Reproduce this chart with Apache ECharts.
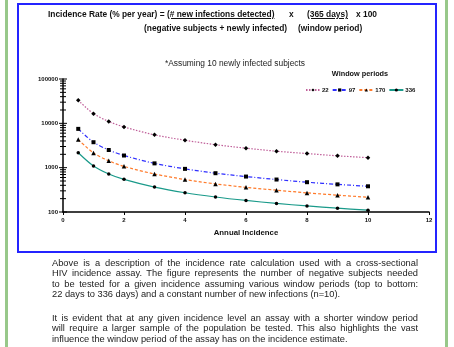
<!DOCTYPE html>
<html>
<head>
<meta charset="utf-8">
<script src="https://cdn.jsdelivr.net/npm/echarts@6/dist/echarts.min.js"></script>
<style>
  html, body { margin: 0; padding: 0; background: #fff; }
  body { width: 454px; height: 347px; position: relative; overflow: hidden; font-family: "Liberation Sans", Arial, sans-serif; }
  .green { position: absolute; top: 0; bottom: 0; width: 3px; background: #98c88a; }
  .box { position: absolute; left: 17px; top: 3px; width: 416px; height: 246px; border: 2px solid #2424ff; }
  #chart { position: absolute; left: 0; top: 0; width: 454px; height: 347px; }
  .formula { position: absolute; font-size: 8.4px; font-weight: bold; color: #111; white-space: nowrap; }
  .formula u { text-decoration-thickness: 1px; text-underline-offset: 1px; }
  .para { position: absolute; left: 52px; width: 366px; font-size: 9.3px; line-height: 10.3px; color: #222; }
  .para div { white-space: nowrap; text-align: justify; text-align-last: justify; }
  .para div.last { text-align-last: left; }
</style>
</head>
<body>
<div class="green" style="left:5px"></div>
<div class="green" style="left:445px"></div>
<div class="box"></div>
<div id="chart"></div>

<div class="formula" style="left:48px; top:9px;">Incidence Rate (% per year) = <u>(# new infections detected)</u></div>
<div class="formula" style="left:289px; top:9px;">x</div>
<div class="formula" style="left:307px; top:9px;"><u>(365 days)</u></div>
<div class="formula" style="left:356px; top:9px;">x 100</div>
<div class="formula" style="left:144px; top:23px;">(negative subjects + newly infected)</div>
<div class="formula" style="left:298px; top:23px;">(window period)</div>

<div class="para" style="top:258px;">
  <div>Above is a description of the incidence rate calculation used with a cross-sectional</div>
  <div>HIV incidence assay. The figure represents the number of negative subjects needed</div>
  <div>to be tested for a given incidence assuming various window periods (top to bottom:</div>
  <div class="last">22 days to 336 days) and a constant number of new infections (n=10).</div>
</div>
<div class="para" style="top:313px;">
  <div>It is evident that at any given incidence level an assay with a shorter window period</div>
  <div>will require a larger sample of the population be tested. This also highlights the vast</div>
  <div class="last">influence the window period of the assay has on the incidence estimate.</div>
</div>

<script>
  // annual incidence (%)
  var incidence = [0.5, 1, 1.5, 2, 3, 4, 5, 6, 7, 8, 9, 10]

  // negative subjects needed, one list per window period
  var win22 = [33000, 16500, 11000, 8300, 5500, 4150, 3300, 2750, 2350, 2080, 1850, 1680]
  var win97 = [7500, 3750, 2500, 1880, 1250, 940, 750, 630, 540, 470, 420, 380]
  var win170 = [4300, 2150, 1430, 1070, 720, 540, 430, 360, 310, 270, 240, 215]
  var win336 = [2170, 1090, 720, 545, 365, 272, 218, 182, 156, 137, 122, 110]

  var windowNames = ['22', '97', '170', '336']

  // log axis ticks (majors + 2..9 minors)
  var yTicks = [100, 200, 300, 400, 500, 600, 700, 800, 900,
    1000, 2000, 3000, 4000, 5000, 6000, 7000, 8000, 9000,
    10000, 20000, 30000, 40000, 50000, 60000, 70000, 80000, 90000, 100000]
  var yMajor = [100, 1000, 10000, 100000]

  function pairs (ys) {
    var out = []
    for (var i = 0; i < incidence.length; i++) {
      out.push([incidence[i], ys[i]])
    }
    return out
  }

  function lineSeries (name, ys, color, dash, symbol, size) {
    return {
      name: name,
      type: 'line',
      smooth: 0.3,
      data: pairs(ys),
      symbol: symbol,
      symbolSize: size,
      itemStyle: { color: '#000' },
      lineStyle: { color: color, width: 1.2, type: dash },
      emphasis: { disabled: true },
      z: 3
    }
  }

  var chart = echarts.init(document.getElementById('chart'), null, { renderer: 'canvas' })

  var option = {
    animation: false,
    textStyle: { fontFamily: 'Liberation Sans, Arial, sans-serif' },
    title: [{
      text: '*Assuming 10 newly infected subjects',
      left: 230,
      textAlign: 'center',
      top: 55,
      textStyle: { fontSize: 8.4, fontWeight: 'normal', color: '#222' }
    }, {
      text: 'Window periods',
      left: 355,
      textAlign: 'center',
      top: 65,
      textStyle: { fontSize: 7.3, fontWeight: 'bold', color: '#111' }
    }],
    legend: {
      left: 305,
      top: 87,
      itemWidth: 14,
      itemHeight: 4,
      itemGap: 3,
      padding: 0,
      data: windowNames,
      textStyle: { fontSize: 6, fontWeight: 'bold', color: '#111', padding: [0, 0, 0, -3] }
    },
    grid: { left: 63, right: 25, top: 79, bottom: 135 },
    xAxis: {
      type: 'value',
      min: 0,
      max: 12,
      interval: 2,
      name: 'Annual Incidence',
      nameLocation: 'middle',
      nameGap: 17,
      nameTextStyle: { fontSize: 7.8, fontWeight: 'bold', color: '#111' },
      axisLine: { lineStyle: { color: '#000', width: 1.5 } },
      axisTick: { show: true, length: 3, lineStyle: { color: '#000' } },
      axisLabel: { fontSize: 6, fontWeight: 'bold', color: '#111', margin: 5 },
      splitLine: { show: false }
    },
    yAxis: {
      type: 'log',
      logBase: 10,
      min: 100,
      max: 100000,
      axisLine: { lineStyle: { color: '#000', width: 1.5 } },
      axisTick: { show: false },
      axisLabel: {
        fontSize: 6,
        fontWeight: 'bold',
        color: '#111',
        margin: 5,
        formatter: function (v) { return String(Math.round(v)) }
      },
      splitLine: { show: false }
    },
    series: [
      lineSeries(windowNames[0], win22, '#c0609a', [1.5, 1.5], 'diamond', 4.5),
      lineSeries(windowNames[1], win97, '#2f2fff', [4, 2, 1, 2], 'rect', 4),
      lineSeries(windowNames[2], win170, '#ff7a2a', [3, 2], 'triangle', 4.5),
      lineSeries(windowNames[3], win336, '#1a9a8a', 'solid', 'circle', 3.5),
      {
        name: 'yticks',
        type: 'custom',
        silent: true,
        data: yTicks,
        encode: { y: 0 },
        renderItem: function (params, api) {
          var v = api.value(0)
          var p = api.coord([0, v])
          var half = yMajor.indexOf(v) >= 0 ? 4 : 3
          return {
            type: 'line',
            shape: { x1: p[0] - half, y1: p[1], x2: p[0] + half, y2: p[1] },
            style: { stroke: '#000', lineWidth: 1 }
          }
        },
        z: 4
      }
    ]
  }

  chart.setOption(option)
</script>
</body>
</html>
